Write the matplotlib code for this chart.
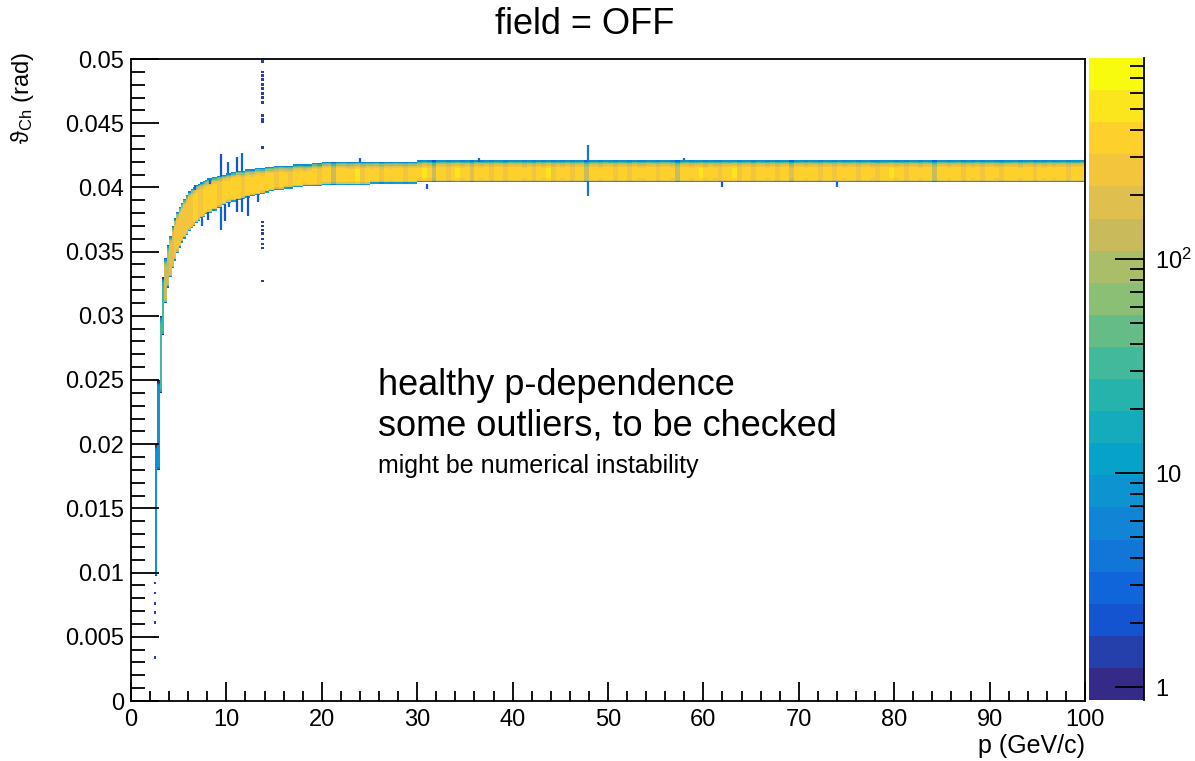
import numpy as np
import matplotlib.pyplot as plt
from matplotlib.colors import LinearSegmentedColormap, LogNorm
from matplotlib.ticker import MultipleLocator, FixedLocator, FixedFormatter, NullFormatter

plt.rcParams['font.family'] = ['Liberation Sans', 'DejaVu Sans']
plt.rcParams['mathtext.fontset'] = 'custom'
plt.rcParams['mathtext.rm'] = 'Liberation Sans'
plt.rcParams['mathtext.it'] = 'Liberation Sans:italic'
plt.rcParams['mathtext.fallback'] = 'stix'

# ROOT kBird palette
bird_stops = [0.0, 0.125, 0.25, 0.375, 0.5, 0.625, 0.75, 0.875, 1.0]
bird_r = [0.2082, 0.0592, 0.0780, 0.0232, 0.1802, 0.5301, 0.8186, 0.9956, 0.9764]
bird_g = [0.1664, 0.3599, 0.5041, 0.6419, 0.7178, 0.7492, 0.7328, 0.7862, 0.9832]
bird_b = [0.5293, 0.8684, 0.8385, 0.7914, 0.6425, 0.4662, 0.3499, 0.1968, 0.0539]

# histogram binning
p_edges = np.arange(0, 100.01, 0.25)
th_edges = np.arange(0, 0.05001, 0.0001)

# band of the Cherenkov angle: start of each p range and band edges there (rad)
band_p = [2.5, 2.75, 3.0, 3.25, 3.5, 3.75, 4.0, 4.25, 4.5, 4.75, 5.0, 5.25, 5.5, 5.75,
          6.0, 6.25, 6.5, 6.75, 7.0, 7.25, 7.5, 7.75, 8.0, 8.5, 9.0, 9.5, 10.0, 10.5,
          11.0, 11.5, 12.0, 12.5, 13.0, 13.5, 14.0, 14.5, 15, 16, 17, 18, 19, 20, 25, 30]
band_lo = [0.0097, 0.0180, 0.0240, 0.0285, 0.0310, 0.0322, 0.0330, 0.0337, 0.0343,
           0.0349, 0.0353, 0.0357, 0.0360, 0.0363, 0.0366, 0.0368, 0.0370, 0.0372,
           0.0374, 0.0376, 0.0377, 0.0379, 0.0380, 0.0382, 0.0384, 0.0386, 0.0388,
           0.0389, 0.0390, 0.0391, 0.0392, 0.0393, 0.0394, 0.0395, 0.0396, 0.0397,
           0.0398, 0.0399, 0.0400, 0.0401, 0.0401, 0.0402, 0.0403, 0.0404]
band_hi = [0.0200, 0.0250, 0.0300, 0.0330, 0.0345, 0.0355, 0.0362, 0.0370, 0.0376,
           0.0381, 0.0385, 0.0388, 0.0391, 0.0394, 0.0397, 0.0399, 0.0400, 0.0402,
           0.0403, 0.0404, 0.0405, 0.0406, 0.0407, 0.0408, 0.0409, 0.0410, 0.0411,
           0.0412, 0.0413, 0.0413, 0.0414, 0.0414, 0.0415, 0.0415, 0.0416, 0.0416,
           0.0417, 0.0417, 0.0418, 0.0418, 0.0419, 0.0420, 0.0420, 0.0421]

# peak entries per 0.5 GeV/c slice, from p = 2.5 up
col_counts = [8, 30, 110, 180, 220, 250, 280, 300, 320, 290, 340, 310, 360, 290, 370,
              320, 350, 400, 300, 370, 340, 410, 320, 360, 390,
              300, 400, 340, 280, 380, 420, 310, 350, 400, 270,
              370, 430, 150, 360, 400, 310, 340, 450, 290, 380,
              340, 410, 230, 370, 320, 420, 350, 280, 400, 360,
              310, 440, 340, 120, 380, 400, 300, 360, 460, 320,
              370, 200, 410, 340, 380, 300, 430, 350, 270, 390,
              360, 410, 310, 370, 250, 400, 340, 450, 300, 380,
              330, 400, 280, 370, 420, 140, 360, 390, 310, 410,
              350, 300, 400, 380, 260, 430, 340, 320, 400, 360,
              290, 390, 420, 340, 130, 380, 400, 320, 360, 440,
              310, 380, 340, 280, 400, 360, 450, 300, 350, 390,
              270, 400, 370, 330, 420, 300, 380, 410, 160, 360,
              390, 320, 430, 350, 300, 400, 370, 280, 400, 340,
              380, 420, 300, 360, 400, 320, 250, 380, 350, 440,
              330, 380, 290, 410, 360, 310, 400, 350, 150, 390,
              400, 320, 370, 420, 280, 380, 340, 400, 300, 360,
              420, 340, 260, 380, 360, 410, 310, 370, 400, 300,
              380, 340, 420, 320, 360, 400, 280, 380, 350, 400]

# fraction of the peak in the cells at the band edges
edge_top = [0.02, 0.1, 0.25, 0.45, 0.7, 0.9]
edge_bot = [0.03, 0.5, 0.9]

# outlier spikes next to the band
spike_p = [6.7, 8.3, 9.4, 10.2, 11.1, 11.6, 7.4, 8.1, 9.4, 9.9, 10.3, 11.1,
           11.6, 12.3, 13.3, 47.9, 47.9, 24.0, 36.5, 58.0, 62.0, 74.0, 31.0]
spike_lo = [0.0398, 0.0403, 0.0409, 0.0411, 0.0412, 0.0413, 0.0370, 0.0375,
            0.0367, 0.0374, 0.0385, 0.0381, 0.0381, 0.0378, 0.0389, 0.0420, 0.0393,
            0.0420, 0.0420, 0.0421, 0.0400, 0.0400, 0.0399]
spike_hi = [0.0402, 0.0406, 0.0426, 0.0420, 0.0424, 0.0427, 0.0377, 0.0381,
            0.0385, 0.0387, 0.0389, 0.0391, 0.0392, 0.0393, 0.0395, 0.0433, 0.0404,
            0.0423, 0.0423, 0.0423, 0.0404, 0.0404, 0.0403]
spike_n = [3, 3, 2, 3, 2, 3, 3, 2, 3, 2, 3, 2, 3, 2, 3, 4, 4, 3, 3, 3, 2, 3, 2]

# single scattered entries
dot_p = [13.8] * 21 + [2.5] * 7
dot_th = [0.0498, 0.0490, 0.0487, 0.0484, 0.0480, 0.0477, 0.0473, 0.0470, 0.0466,
          0.0456, 0.0453, 0.0451, 0.0431, 0.0373, 0.0370, 0.0367, 0.0364, 0.0360,
          0.0356, 0.0353, 0.0327,
          0.0034, 0.0050, 0.0061, 0.0069, 0.0076, 0.0084, 0.0092]

cmap = LinearSegmentedColormap.from_list(
    'bird', list(zip(bird_stops, zip(bird_r, bird_g, bird_b)))).resampled(20)
norm = LogNorm(vmin=0.87, vmax=870)

# fill the 2D histogram
H = np.zeros((len(th_edges) - 1, len(p_edges) - 1))
for i in range(len(p_edges) - 1):
    p = p_edges[i]
    if p < band_p[0]:
        continue
    n = col_counts[int((p - 2.5) // 0.5)]
    j = np.searchsorted(band_p, p, side='right') - 1
    lo = int(round(band_lo[j] / 0.0001))
    hi = int(round(band_hi[j] / 0.0001))
    H[lo:hi, i] = n
    for m, f in enumerate(edge_top):
        if hi - 1 - m >= lo:
            H[hi - 1 - m, i] = n * f
    for m, f in enumerate(edge_bot):
        if lo + m < hi:
            H[lo + m, i] = max(min(H[lo + m, i], n * f), 1)
H = np.ma.masked_less_equal(H, 0)

fig = plt.figure(figsize=(11.95, 7.61), dpi=100)
ax = fig.add_axes([131 / 1195, 60 / 761, 954 / 1195, 642 / 761])
mesh = ax.pcolormesh(p_edges, th_edges, H, cmap=cmap, norm=norm)

ax.vlines(spike_p, spike_lo, spike_hi, colors=cmap(norm(np.array(spike_n))), linewidth=1.6)
ax.scatter(dot_p, dot_th, s=3, marker='s', c=[1.5] * len(dot_p), cmap=cmap, norm=norm,
           linewidths=0)

ax.set_xlim(0, 100)
ax.set_ylim(0, 0.05)
ax.xaxis.set_major_locator(MultipleLocator(10))
ax.xaxis.set_minor_locator(MultipleLocator(2))
ax.yaxis.set_major_locator(FixedLocator([0.005 * k for k in range(11)]))
ax.yaxis.set_major_formatter(FixedFormatter(
    ['0', '0.005', '0.01', '0.015', '0.02', '0.025', '0.03', '0.035', '0.04', '0.045', '0.05']))
ax.yaxis.set_minor_locator(MultipleLocator(0.001))
ax.tick_params(axis='x', which='major', direction='in', length=14, width=1.3,
               labelsize=17, pad=6, top=False)
ax.tick_params(axis='x', which='minor', direction='in', length=7, width=1.3, top=False)
ax.tick_params(axis='y', which='major', direction='in', length=20, width=1.3,
               labelsize=17, pad=5, right=False)
ax.tick_params(axis='y', which='minor', direction='in', length=10, width=1.3, right=False)
for s in ax.spines.values():
    s.set_linewidth(1.3)

ax.set_xlabel('p (GeV/c)', fontsize=18, loc='right', labelpad=2)
fig.text(23 / 1195, 1 - 52 / 761, r'$\mathrm{\vartheta}_{\mathrm{Ch}}$ (rad)', fontsize=17,
         rotation=90, ha='center', va='top')

# colorbar (ROOT palette axis)
cax = fig.add_axes([1089 / 1195, 61 / 761, 55 / 1195, 642 / 761])
cb = fig.colorbar(mesh, cax=cax)
cb.outline.set_visible(False)
cax.yaxis.set_major_locator(FixedLocator([1, 10, 100]))
cax.yaxis.set_major_formatter(FixedFormatter(['1', '10', r'$10^{2}$']))
cax.yaxis.set_minor_locator(FixedLocator([2, 3, 4, 5, 6, 7, 8, 9, 20, 30, 40, 50, 60, 70,
                                          80, 90, 200, 300, 400, 500, 600, 700, 800]))
cax.yaxis.set_minor_formatter(NullFormatter())
cax.tick_params(which='major', direction='in', length=21, width=1.3, labelsize=17, pad=8)
cax.tick_params(which='minor', direction='in', length=10, width=1.3)
cax.spines['right'].set_visible(True)
cax.spines['right'].set_linewidth(1.3)

fig.text(585 / 1195, 1 - 24 / 761, 'field = OFF', fontsize=26, ha='center', va='center')

fig.text(378 / 1195, 1 - 395 / 761, 'healthy p-dependence', fontsize=26, ha='left',
         va='baseline')
fig.text(378 / 1195, 1 - 435 / 761, 'some outliers, to be checked', fontsize=26,
         ha='left', va='baseline')
fig.text(378 / 1195, 1 - 473 / 761, 'might be numerical instability', fontsize=18,
         ha='left', va='baseline')

fig.savefig('out.png', dpi=100)
